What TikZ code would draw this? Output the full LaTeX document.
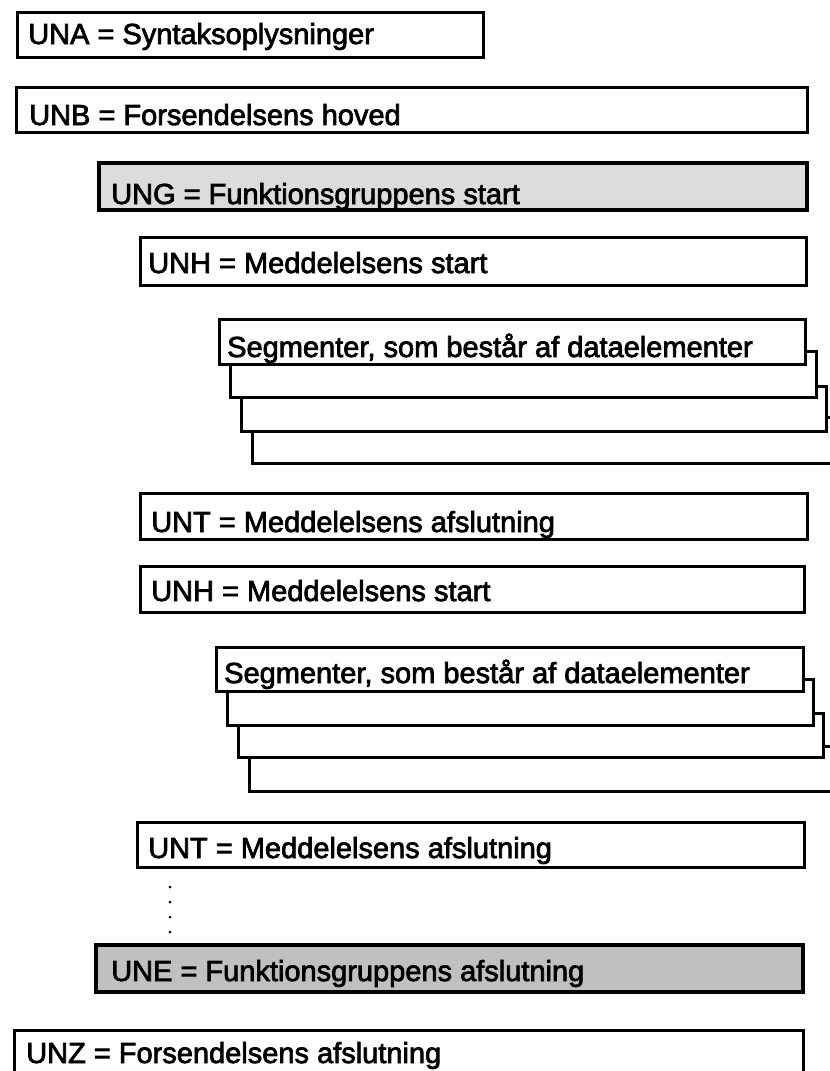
\documentclass[tikz,border=0pt]{standalone}
\usepackage{fontspec}
\newfontfamily\lblfont[FakeBold=2.5]{Liberation Sans}
\usetikzlibrary{fit}
\definecolor{lightgrp}{HTML}{DCDCDC}
\definecolor{midgrp}{HTML}{C0C0C0}
\begin{document}
\begin{tikzpicture}[x=1pt,y=-1pt,
  box/.style={draw=black, line width=3pt, fill=white, inner sep=0pt, rectangle},
  gbox/.style={box, line width=3.6pt, fill=#1},
  lbl/.style={anchor=base west, inner sep=0pt, font=\lblfont\fontsize{29}{34}\selectfont},
  dotn/.style={circle, fill=black, inner sep=0pt, minimum size=3pt}]
\useasboundingbox (0,0) rectangle (830,1071);
\clip (0,0) rectangle (830,1071);
% top-level boxes
\node[box, fit={(17,12)(483,57)}] (una) {};
\node[lbl] (unaT) at (28,44) {UNA = Syntaksoplysninger};
\node[box, fit={(16,87)(807,132)}] (unb) {};
\node[lbl] (unbT) at (29,125) {UNB = Forsendelsens hoved};
\node[gbox=lightgrp, fit={(99,163)(807,210)}] (ung) {};
\node[lbl] (ungT) at (111,204) {UNG = Funktionsgruppens start};
\node[box, fit={(140,237)(806,285)}] (unh1) {};
\node[lbl] (unh1T) at (148,273) {UNH = Meddelelsens start};
% segment stack 1
\node[box, fit={(252,417)(845,463)}] (s1d) {};
\node[box, fit={(241,386)(826,431)}] (s1c) {};
\node[box, fit={(230,351)(816,397)}] (s1b) {};
\node[box, fit={(219,319)(805,364)}] (s1a) {};
\node[lbl] (s1T) at (227,357) {Segmenter, som består af dataelementer};
\node[box, fit={(140,493)(807,539)}] (unt1) {};
\node[lbl] (unt1T) at (151,532) {UNT = Meddelelsens afslutning};
\node[box, fit={(140,566)(804,612)}] (unh2) {};
\node[lbl] (unh2T) at (151,601) {UNH = Meddelelsens start};
% segment stack 2
\node[box, fit={(249,746)(845,791)}] (s2d) {};
\node[box, fit={(238,713)(823,757)}] (s2c) {};
\node[box, fit={(227,679)(813,725)}] (s2b) {};
\node[box, fit={(216,647)(803,691)}] (s2a) {};
\node[lbl] (s2T) at (224,683) {Segmenter, som består af dataelementer};
\node[box, fit={(137,822)(804,867)}] (unt2) {};
\node[lbl] (unt2T) at (148,858) {UNT = Meddelelsens afslutning};
% dots
\node[dotn] (d1) at (170,887) {};
\node[dotn] (d2) at (170,902) {};
\node[dotn] (d3) at (170,917) {};
\node[dotn] (d4) at (170,932) {};
\node[gbox=midgrp, fit={(96,945)(803,992)}] (une) {};
\node[lbl] (uneT) at (111,981) {UNE = Funktionsgruppens afslutning};
\node[box, fit={(14,1030)(803,1095)}] (unz) {};
\node[lbl] (unzT) at (26,1063) {UNZ = Forsendelsens afslutning};
\end{tikzpicture}
\end{document}
